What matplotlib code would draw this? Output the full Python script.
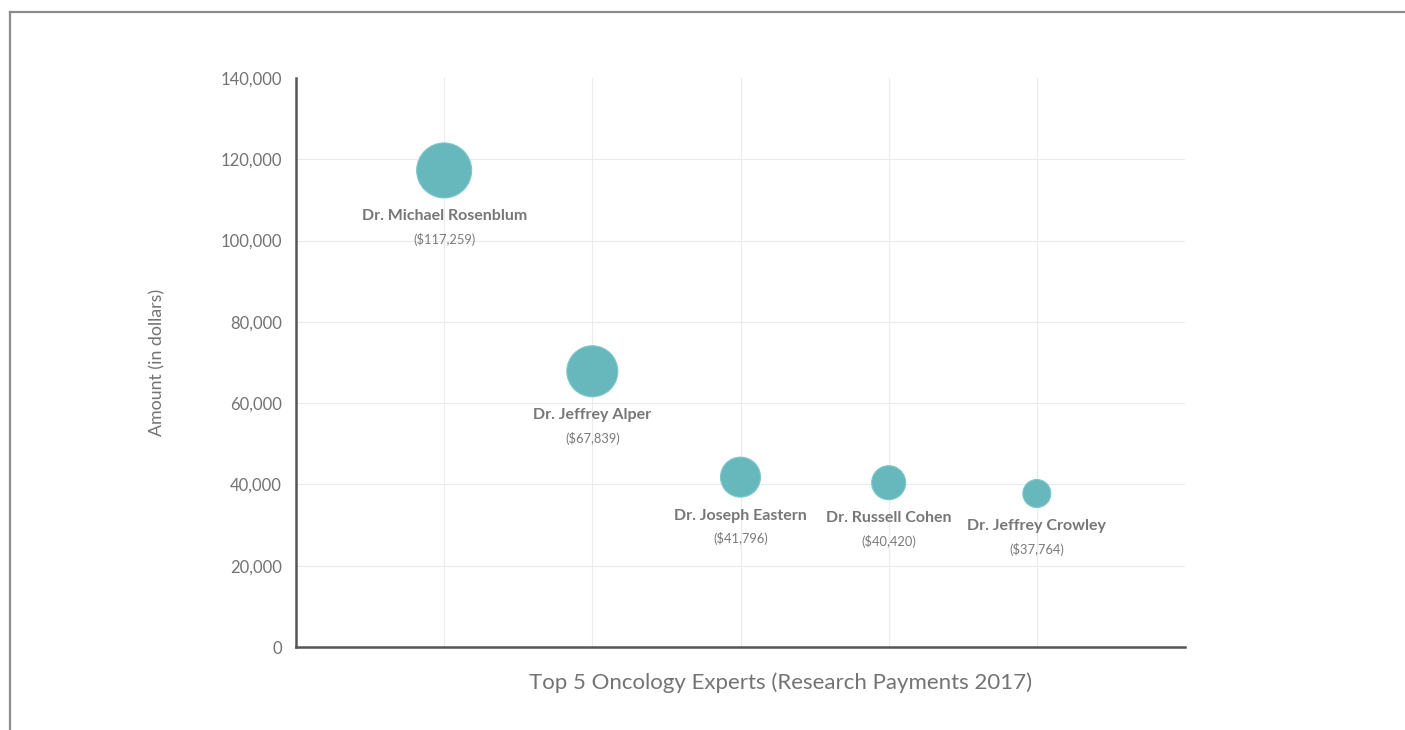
import matplotlib.pyplot as plt
from matplotlib.lines import Line2D
import numpy as np

# data
doctors = ["Dr. Michael Rosenblum", "Dr. Jeffrey Alper", "Dr. Joseph Eastern",
           "Dr. Russell Cohen", "Dr. Jeffrey Crowley"]
amounts = [117259, 67839, 41796, 40420, 37764]
bubble_weight = [55, 51, 40, 34, 28]   # relative bubble diameter
y_ticks = [0, 20000, 40000, 60000, 80000, 100000, 120000, 140000]

plt.rcParams['font.family'] = ['Lato', 'DejaVu Sans']

fig = plt.figure(figsize=(14.05, 7.3), dpi=100)
fig.patch.set_facecolor('white')
ax = fig.add_axes([296 / 1405, 1 - 647 / 730, (1185 - 296) / 1405, (647 - 78) / 730])

# outer frame (top + left only visible)
fig.add_artist(Line2D([10 / 1405, 1], [1 - 11.5 / 730, 1 - 11.5 / 730], color='#8c8c8c', lw=1.6))
fig.add_artist(Line2D([10 / 1405, 10 / 1405], [0, 1 - 11.5 / 730], color='#8c8c8c', lw=1.6))

x = np.arange(1, len(doctors) + 1)

# grid
for yt in y_ticks[1:-1]:
    ax.axhline(yt, color='#ebebeb', lw=0.8, zorder=0)
for xi in x:
    ax.axvline(xi, color='#ebebeb', lw=0.8, zorder=0)

# bubbles: diameter in px -> points
diam_pt = np.array(bubble_weight) * 0.72
ax.scatter(x, amounts, s=diam_pt ** 2, color='#66b8bc', edgecolors='#80c6c9',
           linewidths=0.8, zorder=3)

for xi, yv, name, d in zip(x, amounts, doctors, bubble_weight):
    off = (d / 2 + 18.5) * 0.72
    ax.annotate(name, (xi, yv), xytext=(0, -off), textcoords='offset points',
                ha='center', va='center', fontsize=11.5, fontweight='bold', color='#777777')
    ax.annotate(f"(${yv:,})", (xi, yv), xytext=(0, -off - 23 * 0.72), textcoords='offset points',
                ha='center', va='center', fontsize=9.3, color='#7a7a7a')

ax.set_xlim(0, 6)
ax.set_ylim(0, 140000)
ax.set_yticks(y_ticks)
ax.set_yticklabels([f"{v:,}" for v in y_ticks])
ax.set_xticks([])
ax.tick_params(axis='y', length=0, pad=10, labelsize=12, labelcolor='#737373')

for s in ['top', 'right']:
    ax.spines[s].set_visible(False)
for s in ['left', 'bottom']:
    ax.spines[s].set_color('#555555')
    ax.spines[s].set_linewidth(1.8)

ax.set_ylabel("Amount (in dollars)", fontsize=12.8, color='#737373', labelpad=40)
fig.text(781 / 1405, 1 - 683 / 730, "Top 5 Oncology Experts (Research Payments 2017)",
         fontsize=16, color='#737373', ha='center', va='center')

fig.savefig('out.png', dpi=100, facecolor='white')
